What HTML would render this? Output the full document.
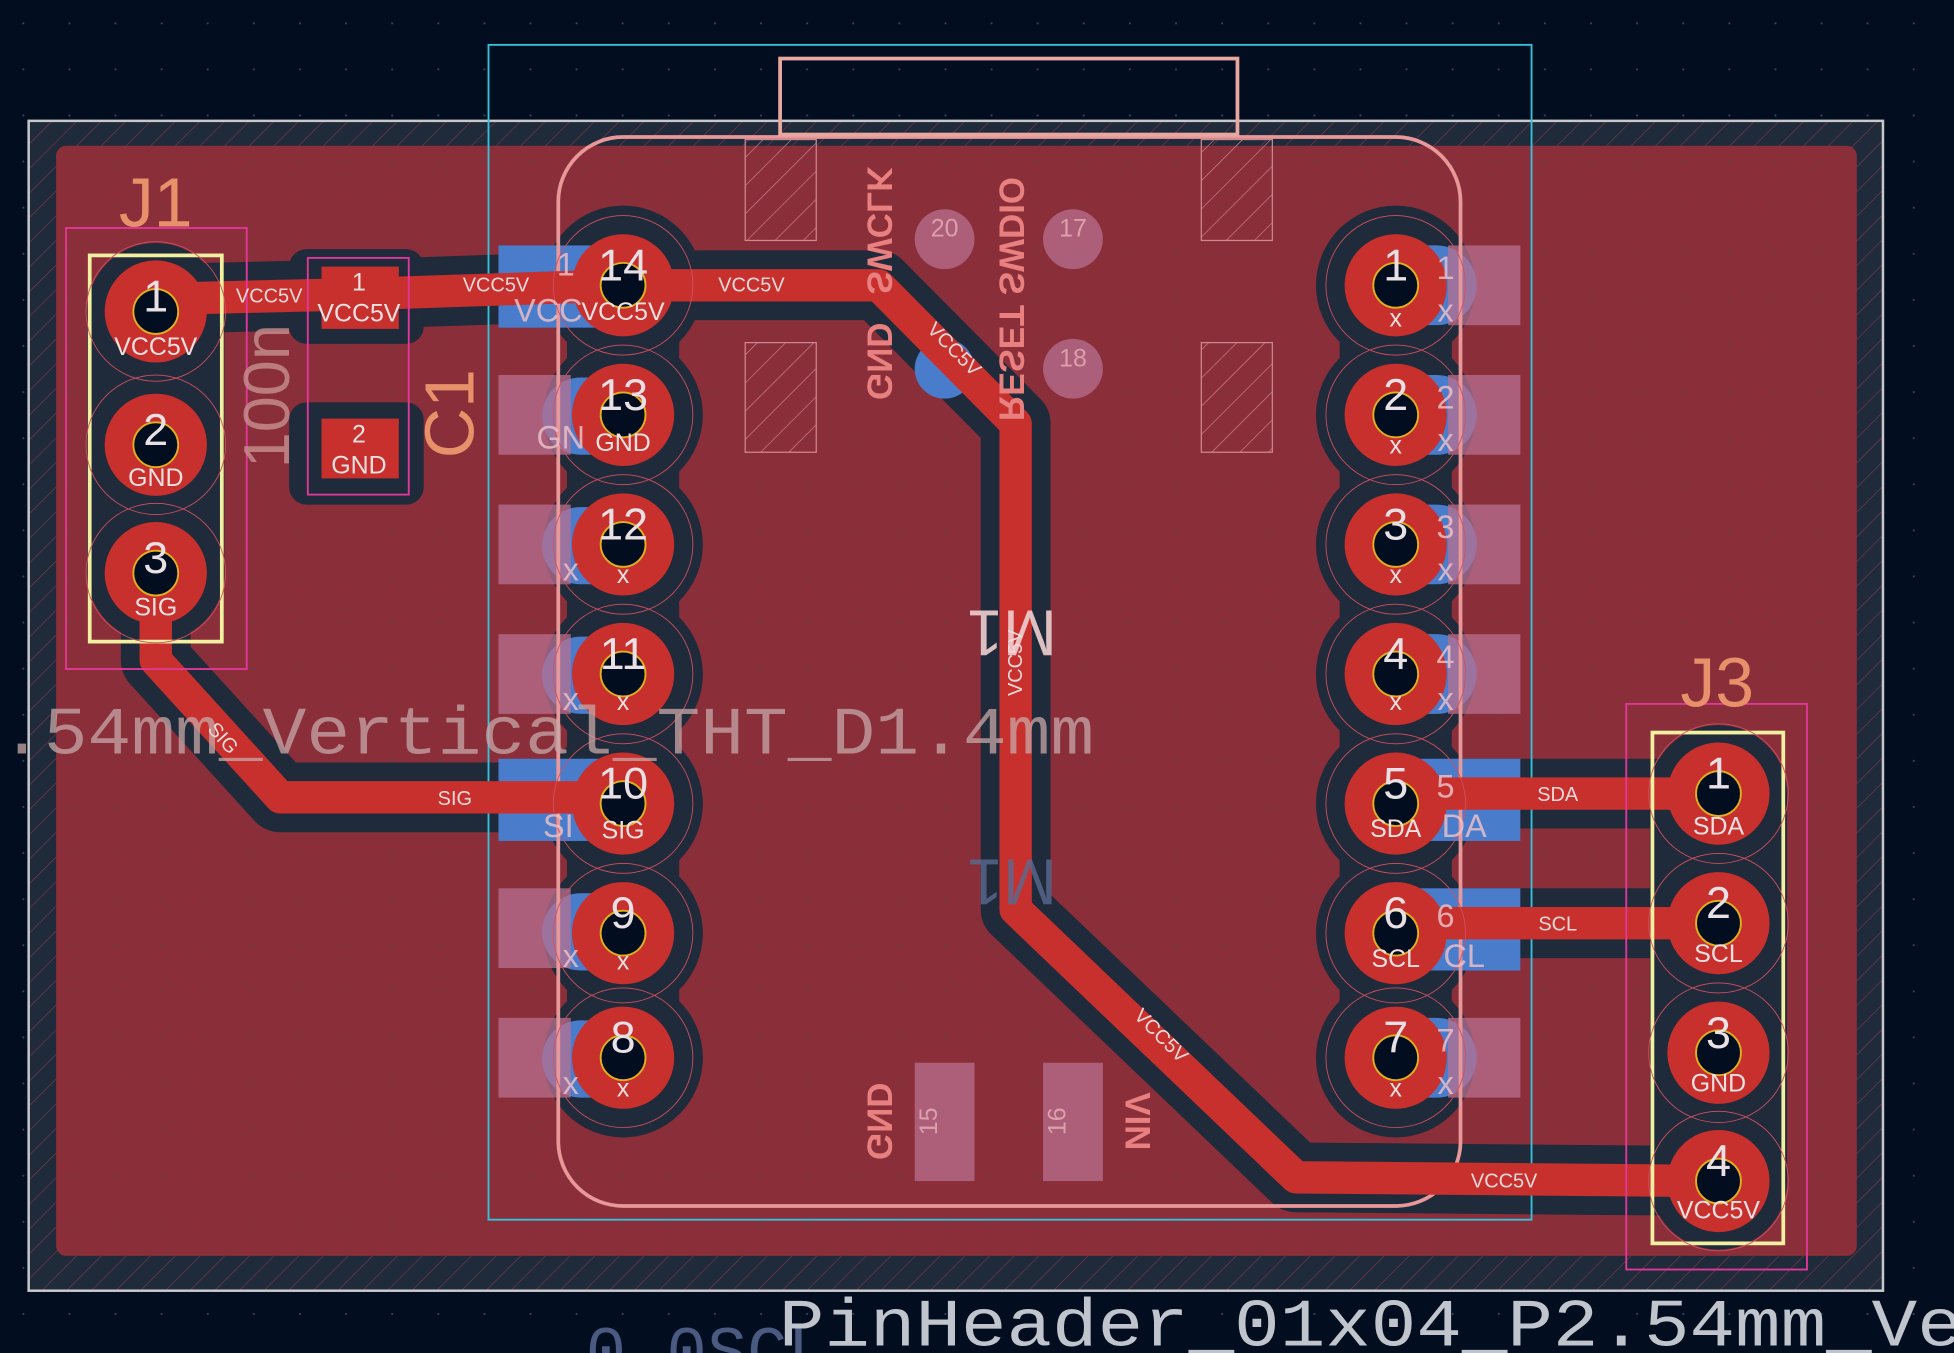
<!DOCTYPE html>
<html><head><meta charset="utf-8"><style>
html,body{margin:0;padding:0;background:#020e1f;}
svg{display:block;font-family:"Liberation Sans","DejaVu Sans",sans-serif;}
</style></head><body>
<svg width="1954" height="1353" viewBox="0 0 1568 1086" preserveAspectRatio="none" xmlns="http://www.w3.org/2000/svg">
<defs>
<pattern id="grid" width="37" height="37" patternUnits="userSpaceOnUse"><rect x="18" y="18" width="1.4" height="1.4" fill="#3a4a60"/></pattern>
<pattern id="hatch" width="14" height="14" patternUnits="userSpaceOnUse" patternTransform="rotate(45)"><line x1="0" y1="0" x2="0" y2="14" stroke="#7a3a4a" stroke-width="1"/></pattern>
<pattern id="hatch2" width="16" height="16" patternUnits="userSpaceOnUse" patternTransform="rotate(45)"><line x1="0" y1="0" x2="0" y2="16" stroke="#d08890" stroke-width="1"/></pattern>
<g id="pad"><circle r="41" fill="#c8302e"/><circle r="18" fill="#020e1f" stroke="#e0b020" stroke-width="1.5"/><circle r="56" fill="none" stroke="#d05060" stroke-width="0.7"/></g>
<circle id="clr" r="64" fill="#1f2a3a"/>
</defs>
<rect width="1568" height="1086" fill="#020e1f"/>
<rect width="1568" height="1086" fill="url(#grid)"/>
<rect x="23" y="97" width="1488" height="939" fill="#1f2a3a"/>
<rect x="23" y="97" width="1488" height="939" fill="url(#hatch)"/>
<rect x="45" y="117" width="1445" height="891" rx="8" fill="#8a2e3a"/>
<rect x="45" y="117" width="1445" height="891" fill="url(#grid)" opacity="0.6"/>
<rect x="23" y="97" width="1488" height="939" fill="none" stroke="#c8c8cc" stroke-width="2"/>
<g stroke="#1f2a3a" stroke-width="56" fill="none" stroke-linejoin="round" stroke-linecap="round">
<polyline points="125,240 290,236 500,229 705,229 815,340 815,730 1040,945 1379,948"/>
<polyline points="125,460 125,530 225,640 500,640"/>
<line x1="1120" y1="637" x2="1379" y2="637"/>
<line x1="1120" y1="741" x2="1379" y2="741"/>
<line x1="500" y1="229" x2="500" y2="849" stroke-width="90"/>
<line x1="1120" y1="229" x2="1120" y2="849" stroke-width="90"/>
<line x1="125" y1="250" x2="125" y2="460" stroke-width="110"/>
<line x1="1379" y1="637" x2="1379" y2="948" stroke-width="110"/>
</g>
<rect x="232" y="200" width="108" height="76" rx="14" fill="#1f2a3a"/>
<rect x="232" y="323" width="108" height="82" rx="14" fill="#1f2a3a"/>
<g>
<use href="#clr" x="500" y="229"/><use href="#clr" x="500" y="333"/><use href="#clr" x="500" y="437"/><use href="#clr" x="500" y="541"/><use href="#clr" x="500" y="645"/><use href="#clr" x="500" y="749"/><use href="#clr" x="500" y="849"/>
<use href="#clr" x="1120" y="229"/><use href="#clr" x="1120" y="333"/><use href="#clr" x="1120" y="437"/><use href="#clr" x="1120" y="541"/><use href="#clr" x="1120" y="645"/><use href="#clr" x="1120" y="749"/><use href="#clr" x="1120" y="849"/>
</g>
<g fill="#4a7ccc">
<rect x="400" y="197" width="80" height="66"/>
<rect x="400" y="609" width="80" height="66"/>
<rect x="435" y="303" width="80" height="62" rx="31"/><rect x="435" y="407" width="80" height="62" rx="31"/><rect x="435" y="511" width="80" height="62" rx="31"/><rect x="435" y="717" width="80" height="62" rx="31"/><rect x="435" y="819" width="80" height="62" rx="31"/>
<rect x="1140" y="609" width="80" height="66"/>
<rect x="1140" y="713" width="80" height="66"/>
<rect x="1105" y="197" width="80" height="64" rx="32"/><rect x="1105" y="301" width="80" height="64" rx="32"/><rect x="1105" y="405" width="80" height="64" rx="32"/><rect x="1105" y="509" width="80" height="64" rx="32"/><rect x="1105" y="817" width="80" height="64" rx="32"/>
<circle cx="758" cy="296" r="24"/>
</g>
<g fill="#b87090" opacity="0.75">
<rect x="400" y="301" width="58" height="64"/><rect x="400" y="405" width="58" height="64"/><rect x="400" y="509" width="58" height="64"/><rect x="400" y="713" width="58" height="64"/><rect x="400" y="817" width="58" height="64"/>
<rect x="1162" y="197" width="58" height="64"/><rect x="1162" y="301" width="58" height="64"/><rect x="1162" y="405" width="58" height="64"/><rect x="1162" y="509" width="58" height="64"/><rect x="1162" y="817" width="58" height="64"/>
<circle cx="758" cy="192" r="24"/><circle cx="861" cy="192" r="24"/><circle cx="861" cy="296" r="24"/>
<rect x="734" y="853" width="48" height="95"/><rect x="837" y="853" width="48" height="95"/>
</g>
<rect x="392" y="36" width="837" height="943" fill="none" stroke="#36c0da" stroke-width="1.5"/>
<rect x="448" y="110" width="724" height="858" rx="52" fill="none" stroke="#e89898" stroke-width="3"/>
<rect x="626" y="47" width="367" height="61" fill="none" stroke="#e8a8a0" stroke-width="3"/>
<g stroke="#d08890" stroke-width="1">
<rect x="598" y="112" width="57" height="81" fill="url(#hatch2)"/><rect x="964" y="112" width="57" height="81" fill="url(#hatch2)"/>
<rect x="598" y="275" width="57" height="88" fill="url(#hatch2)"/><rect x="964" y="275" width="57" height="88" fill="url(#hatch2)"/>
</g>
<g stroke="#c8302e" stroke-width="26" fill="none" stroke-linejoin="round" stroke-linecap="round">
<polyline points="125,240 290,236 500,229 705,229 815,340 815,730 1040,945 1379,948"/>
<polyline points="125,460 125,530 225,640 500,640"/>
<line x1="1120" y1="637" x2="1379" y2="637"/>
<line x1="1120" y1="741" x2="1379" y2="741"/>
</g>
<rect x="53" y="183" width="145" height="354" fill="none" stroke="#e03898" stroke-width="1.5"/>
<rect x="72" y="205" width="106" height="310" fill="none" stroke="#f0f0a0" stroke-width="3"/>
<use href="#pad" x="125" y="250"/><use href="#pad" x="125" y="357"/><use href="#pad" x="125" y="460"/>
<rect x="247" y="207" width="81" height="190" fill="none" stroke="#e03898" stroke-width="1.5"/>
<rect x="258" y="214" width="62" height="50" fill="#c8302e"/><rect x="258" y="336" width="62" height="48" fill="#c8302e"/>
<rect x="1305" y="565" width="145" height="454" fill="none" stroke="#e03898" stroke-width="1.5"/>
<rect x="1326" y="588" width="105" height="410" fill="none" stroke="#f0f0a0" stroke-width="3"/>
<use href="#pad" x="1379" y="637"/><use href="#pad" x="1379" y="741"/><use href="#pad" x="1379" y="845"/><use href="#pad" x="1379" y="948"/>
<use href="#pad" x="500" y="229"/><use href="#pad" x="500" y="333"/><use href="#pad" x="500" y="437"/><use href="#pad" x="500" y="541"/><use href="#pad" x="500" y="645"/><use href="#pad" x="500" y="749"/><use href="#pad" x="500" y="849"/>
<use href="#pad" x="1120" y="229"/><use href="#pad" x="1120" y="333"/><use href="#pad" x="1120" y="437"/><use href="#pad" x="1120" y="541"/><use href="#pad" x="1120" y="645"/><use href="#pad" x="1120" y="749"/><use href="#pad" x="1120" y="849"/>
<text x="125" y="182" fill="#e8906a" font-size="56" text-anchor="middle">J1</text>
<text x="1378" y="567" fill="#e8906a" font-size="56" text-anchor="middle">J3</text>
<text transform="translate(380,332) rotate(-90)" fill="#e8906a" font-size="56" text-anchor="middle">C1</text>
<text transform="translate(232,318) rotate(-90)" fill="#c89090" font-size="52" text-anchor="middle" opacity="0.8">100n</text>
<text x="0" y="605" fill="#c8a8a8" font-size="54" opacity="0.75" font-family="Liberation Mono,monospace" textLength="878" lengthAdjust="spacingAndGlyphs">.54mm_Vertical_THT_D1.4mm</text>
<text x="470" y="1102" fill="#4a5a80" font-size="54" font-family="Liberation Mono,monospace">0.0SCL</text>
<text x="625" y="1080" fill="#c0c4cc" font-size="54" font-family="Liberation Mono,monospace" textLength="950" lengthAdjust="spacingAndGlyphs">PinHeader_01x04_P2.54mm_Ve</text>
<text transform="translate(812,490) rotate(180)" fill="#f0d0d0" font-size="52" text-anchor="middle" opacity="0.9">M1</text>
<text transform="translate(812,690) rotate(180)" fill="#5a6a90" font-size="52" text-anchor="middle" opacity="0.8">M1</text>
<g fill="#e88080" font-size="28" font-weight="bold">
<text transform="translate(696,290) rotate(-90) scale(1,-1)" text-anchor="middle">GND</text>
<text transform="translate(696,185) rotate(-90) scale(1,-1)" text-anchor="middle">SWCLK</text>
<text transform="translate(802,240) rotate(-90) scale(1,-1)" text-anchor="middle">RESET SWDIO</text>
<text transform="translate(696,900) rotate(-90) scale(1,-1)" text-anchor="middle">GND</text>
<text transform="translate(903,900) rotate(90)" text-anchor="middle">VIN</text>
</g>
<g fill="#e8b0b8" font-size="20" text-anchor="middle" opacity="0.8">
<text x="758" y="190">20</text><text x="861" y="190">17</text><text x="861" y="294">18</text>
<text transform="translate(752,900) rotate(-90)">15</text><text transform="translate(855,900) rotate(-90)">16</text>
</g>
<g fill="#e8e0e4" text-anchor="middle" font-size="36">
<text x="125" y="250">1</text><text x="125" y="357">2</text><text x="125" y="460">3</text>
<text x="500" y="225">14</text><text x="500" y="329">13</text><text x="500" y="433">12</text><text x="500" y="537">11</text><text x="500" y="641">10</text><text x="500" y="745">9</text><text x="500" y="845">8</text>
<text x="1120" y="225">1</text><text x="1120" y="329">2</text><text x="1120" y="433">3</text><text x="1120" y="537">4</text><text x="1120" y="641">5</text><text x="1120" y="745">6</text><text x="1120" y="845">7</text>
<text x="1379" y="633">1</text><text x="1379" y="737">2</text><text x="1379" y="841">3</text><text x="1379" y="944">4</text>
</g>
<g fill="#f0e0e0" text-anchor="middle" font-size="20">
<text x="125" y="285">VCC5V</text><text x="125" y="390">GND</text><text x="125" y="494">SIG</text>
<text x="500" y="257">VCC5V</text><text x="500" y="362">GND</text><text x="500" y="468">x</text><text x="500" y="570">x</text><text x="500" y="673">SIG</text><text x="500" y="778">x</text><text x="500" y="880">x</text>
<text x="1120" y="262">x</text><text x="1120" y="364">x</text><text x="1120" y="468">x</text><text x="1120" y="570">x</text><text x="1120" y="672">SDA</text><text x="1120" y="776">SCL</text><text x="1120" y="880">x</text>
<text x="1379" y="670">SDA</text><text x="1379" y="772">SCL</text><text x="1379" y="876">GND</text><text x="1379" y="978">VCC5V</text>
<text x="288" y="233">1</text><text x="288" y="258">VCC5V</text><text x="288" y="355">2</text><text x="288" y="380">GND</text>
</g>
<g fill="#f0d8d8" font-size="16" text-anchor="middle">
<text x="216" y="243">VCC5V</text><text x="398" y="234">VCC5V</text><text x="603" y="234">VCC5V</text>
<text transform="translate(762,284) rotate(45)">VCC5V</text>
<text transform="translate(820,532) rotate(-90)">VCC5V</text>
<text transform="translate(928,835) rotate(45)">VCC5V</text>
<text x="1207" y="953">VCC5V</text>
<text x="365" y="646">SIG</text>
<text transform="translate(175,596) rotate(48)">SIG</text>
<text x="1250" y="643">SDA</text><text x="1250" y="747">SCL</text>
</g>
<g fill="#e8c0c8" font-size="26" text-anchor="middle" opacity="0.85">
<text x="454" y="221">1</text><text x="440" y="258">VCC</text><text x="1160" y="224">1</text><text x="1160" y="258">x</text>
<text x="1160" y="328">2</text><text x="1160" y="362">x</text><text x="1160" y="432">3</text><text x="1160" y="466">x</text>
<text x="1160" y="536">4</text><text x="1160" y="570">x</text><text x="1160" y="640">5</text><text x="1175" y="672">DA</text>
<text x="1160" y="744">6</text><text x="1175" y="776">CL</text><text x="1160" y="844">7</text><text x="1160" y="878">x</text>
<text x="458" y="878">x</text><text x="458" y="776">x</text><text x="458" y="570">x</text><text x="458" y="466">x</text><text x="450" y="360">GN</text><text x="448" y="672">SI</text>
</g>
</svg>
</body></html>
